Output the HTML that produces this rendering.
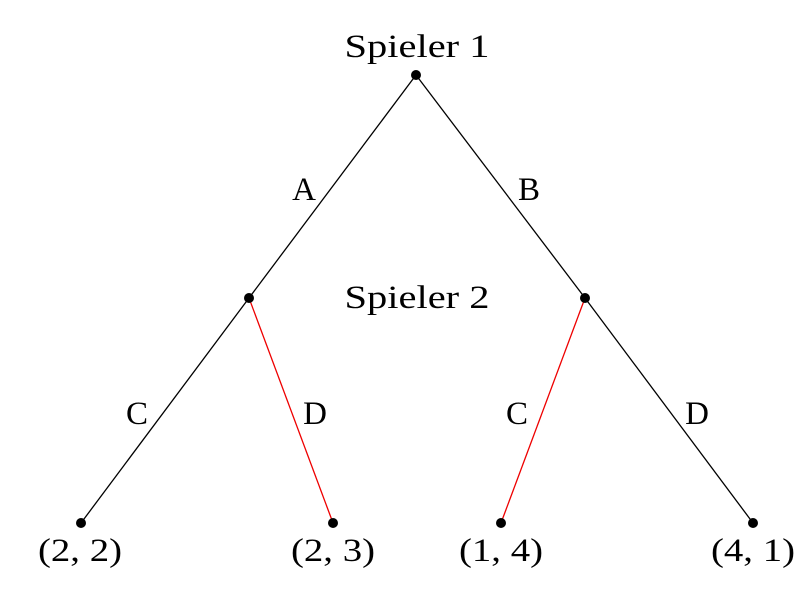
<!DOCTYPE html>
<html><head><style>body{margin:0;background:#fff}</style></head><body>
<svg width="800" height="585" xmlns="http://www.w3.org/2000/svg" font-family="Liberation Serif, serif" font-size="33" fill="#000">
<rect width="800" height="585" fill="#fff"/>
<g stroke="#000" stroke-width="1.3">
<line x1="416" y1="75" x2="249" y2="298"/>
<line x1="416" y1="75" x2="585" y2="298"/>
<line x1="249" y1="298" x2="81" y2="523"/>
<line x1="585" y1="298" x2="753" y2="523"/>
</g>
<g stroke="#e00" stroke-width="1.3">
<line x1="249" y1="298" x2="333" y2="523"/>
<line x1="585" y1="298" x2="501" y2="523"/>
</g>
<g>
<circle cx="416" cy="75" r="5"/><circle cx="249" cy="298" r="5"/><circle cx="585" cy="298" r="5"/>
<circle cx="81" cy="523" r="5"/><circle cx="333" cy="523" r="5"/><circle cx="501" cy="523" r="5"/><circle cx="753" cy="523" r="5"/>
</g>
<g text-anchor="middle">
<text x="417" y="57" textLength="145" lengthAdjust="spacingAndGlyphs">Spieler 1</text>
<text x="417" y="308" textLength="145" lengthAdjust="spacingAndGlyphs">Spieler 2</text>
<text x="304" y="200">A</text>
<text x="529" y="200">B</text>
<text x="137" y="424">C</text>
<text x="315" y="424">D</text>
<text x="517" y="424">C</text>
<text x="697" y="424">D</text>
<text x="80" y="561" textLength="84" lengthAdjust="spacingAndGlyphs">(2, 2)</text>
<text x="333" y="561" textLength="84" lengthAdjust="spacingAndGlyphs">(2, 3)</text>
<text x="501" y="561" textLength="84" lengthAdjust="spacingAndGlyphs">(1, 4)</text>
<text x="753" y="561" textLength="84" lengthAdjust="spacingAndGlyphs">(4, 1)</text>
</g>
</svg>
</body></html>
